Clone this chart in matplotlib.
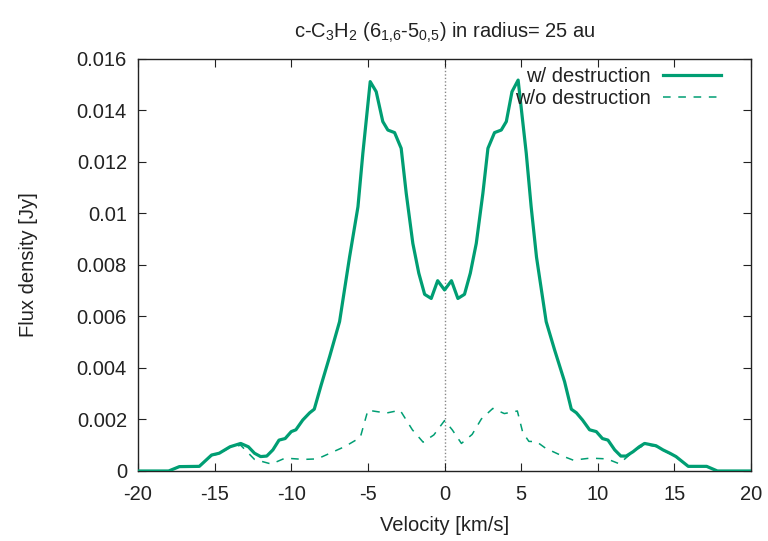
import matplotlib
matplotlib.use('Agg')
import matplotlib.pyplot as plt

plt.rcParams['font.family'] = ['Liberation Sans', 'DejaVu Sans']
plt.rcParams['mathtext.fontset'] = 'custom'
plt.rcParams['mathtext.rm'] = 'Liberation Sans'
plt.rcParams['mathtext.it'] = 'Liberation Sans'

# ====== データ ======
vel_w = [-20, -18.0, -17.3, -16.0, -15.2, -14.7, -14.0, -13.3, -12.8, -12.4,
         -12.0, -11.6, -11.2, -10.8, -10.4, -10.0, -9.7, -9.25, -8.8, -8.5,
         -8.05, -7.5, -6.85, -6.2, -5.65, -5.33, -4.85, -4.46, -4.03, -3.7,
         -3.26, -2.83, -2.5, -2.07, -1.68, -1.3, -0.87, -0.45, 0.0,
         0.45, 0.87, 1.3, 1.68, 2.07, 2.5, 2.83, 3.26, 3.7, 4.03,
         4.4, 4.8, 5.33, 5.65, 6.0, 6.63, 7.18, 7.83, 8.27, 8.6,
         9.0, 9.46, 9.9, 10.3, 10.66, 11.1, 11.5, 11.85, 12.3, 12.7,
         13.05, 13.8, 14.25, 14.7, 15.1, 15.9, 17.1, 17.8, 20]
flux_w = [0, 0, 0.00017, 0.00018, 0.00062, 0.00069, 0.00094, 0.00107, 0.00094, 0.00069,
          0.00056, 0.00058, 0.00082, 0.0012, 0.00126, 0.00153, 0.0016, 0.00198, 0.00226, 0.0024,
          0.00334, 0.00444, 0.0058, 0.0083, 0.01026, 0.01234, 0.01512, 0.01473, 0.01357, 0.01324,
          0.01314, 0.01253, 0.01078, 0.00884, 0.00768, 0.00686, 0.0067, 0.00739, 0.00703,
          0.00739, 0.0067, 0.00686, 0.00768, 0.00884, 0.01078, 0.01253, 0.01314, 0.01324, 0.01357,
          0.01473, 0.01518, 0.01234, 0.01026, 0.0083, 0.0058, 0.0047, 0.00347, 0.0024, 0.00226,
          0.00198, 0.0016, 0.00153, 0.00126, 0.0012, 0.00082, 0.00058, 0.00058, 0.00075, 0.00094,
          0.00107, 0.00098, 0.00082, 0.00069, 0.00056, 0.00018, 0.00018, 0, 0]

vel_wo = [-20, -18.0, -17.3, -16.0, -15.2, -14.7, -14.0, -13.3, -12.4, -11.3,
          -10.4, -9.2, -8.3, -7.4, -6.5, -5.5, -5.0, -3.8, -2.9, -2.1,
          -1.4, -0.7, 0.0, 0.5, 1.1, 1.8, 2.4, 3.15, 3.9, 4.75,
          5.1, 5.5, 6.0, 6.6, 7.7, 8.4, 9.5, 10.6, 11.4, 12.4,
          13.1, 13.8, 14.7, 15.1, 15.9, 17.1, 17.8, 20]
flux_wo = [0, 0, 0.00017, 0.00018, 0.0006, 0.00067, 0.00092, 0.001, 0.00045, 0.00027,
           0.0005, 0.00045, 0.00047, 0.00071, 0.00095, 0.0013, 0.00236, 0.00225, 0.00236, 0.0016,
           0.00112, 0.0014, 0.00196, 0.0016, 0.00107, 0.00142, 0.00202, 0.00243, 0.00223, 0.00233,
           0.0015, 0.00115, 0.00114, 0.00088, 0.00058, 0.00042, 0.0005, 0.00047, 0.00028, 0.0008,
           0.00103, 0.00095, 0.00067, 0.00054, 0.00018, 0.00018, 0, 0]

x_ticks = [-20, -15, -10, -5, 0, 5, 10, 15, 20]
y_ticks = [0, 0.002, 0.004, 0.006, 0.008, 0.01, 0.012, 0.014, 0.016]
y_ticklabels = ['0', '0.002', '0.004', '0.006', '0.008', '0.01', '0.012', '0.014', '0.016']

color = '#009e73'

# ====== 描画 ======
fig = plt.figure(figsize=(7.68, 5.41), dpi=100)
ax = fig.add_axes([0.1797, 0.1294, 0.7983, 0.7616])

ax.axvline(0, color='#888888', lw=1.0, ls=(0, (1, 1.5)), zorder=1)
ax.plot(vel_w, flux_w, color=color, lw=2.3, label='w/ destruction', zorder=3)
ax.plot(vel_wo, flux_wo, color=color, lw=1.1, ls=(0, (5, 5)), label='w/o destruction', zorder=2)

ax.set_xlim(-20, 20)
ax.set_ylim(0, 0.016)
ax.set_xticks(x_ticks)
ax.set_xticklabels([str(t) for t in x_ticks])
ax.set_yticks(y_ticks)
ax.set_yticklabels(y_ticklabels)
ax.tick_params(direction='in', top=True, right=True, length=6, width=0.8,
               labelsize=14.5, colors='#222222', pad=8)
ax.tick_params(axis='x', pad=10)
for s in ax.spines.values():
    s.set_linewidth(1.0)
    s.set_color('#222222')

ax.set_xlabel('Velocity [km/s]', fontsize=14.5, color='#222222', labelpad=9)
ax.set_ylabel('Flux density [Jy]', fontsize=14.5, color='#222222', labelpad=28)
ax.set_title(r'c-C$_3$H$_2$ (6$_{1{,}6}$-5$_{0{,}5}$) in radius= 25 au',
             fontsize=14.5, color='#222222', pad=15)

leg = ax.legend(loc='upper right', frameon=False, markerfirst=False, fontsize=14.5,
                handlelength=2.9, handletextpad=0.6, labelspacing=0.15,
                borderaxespad=0.2, bbox_to_anchor=(0.971, 1.01))
for t in leg.get_texts():
    t.set_color('#222222')

plt.savefig('out.png', dpi=100)
